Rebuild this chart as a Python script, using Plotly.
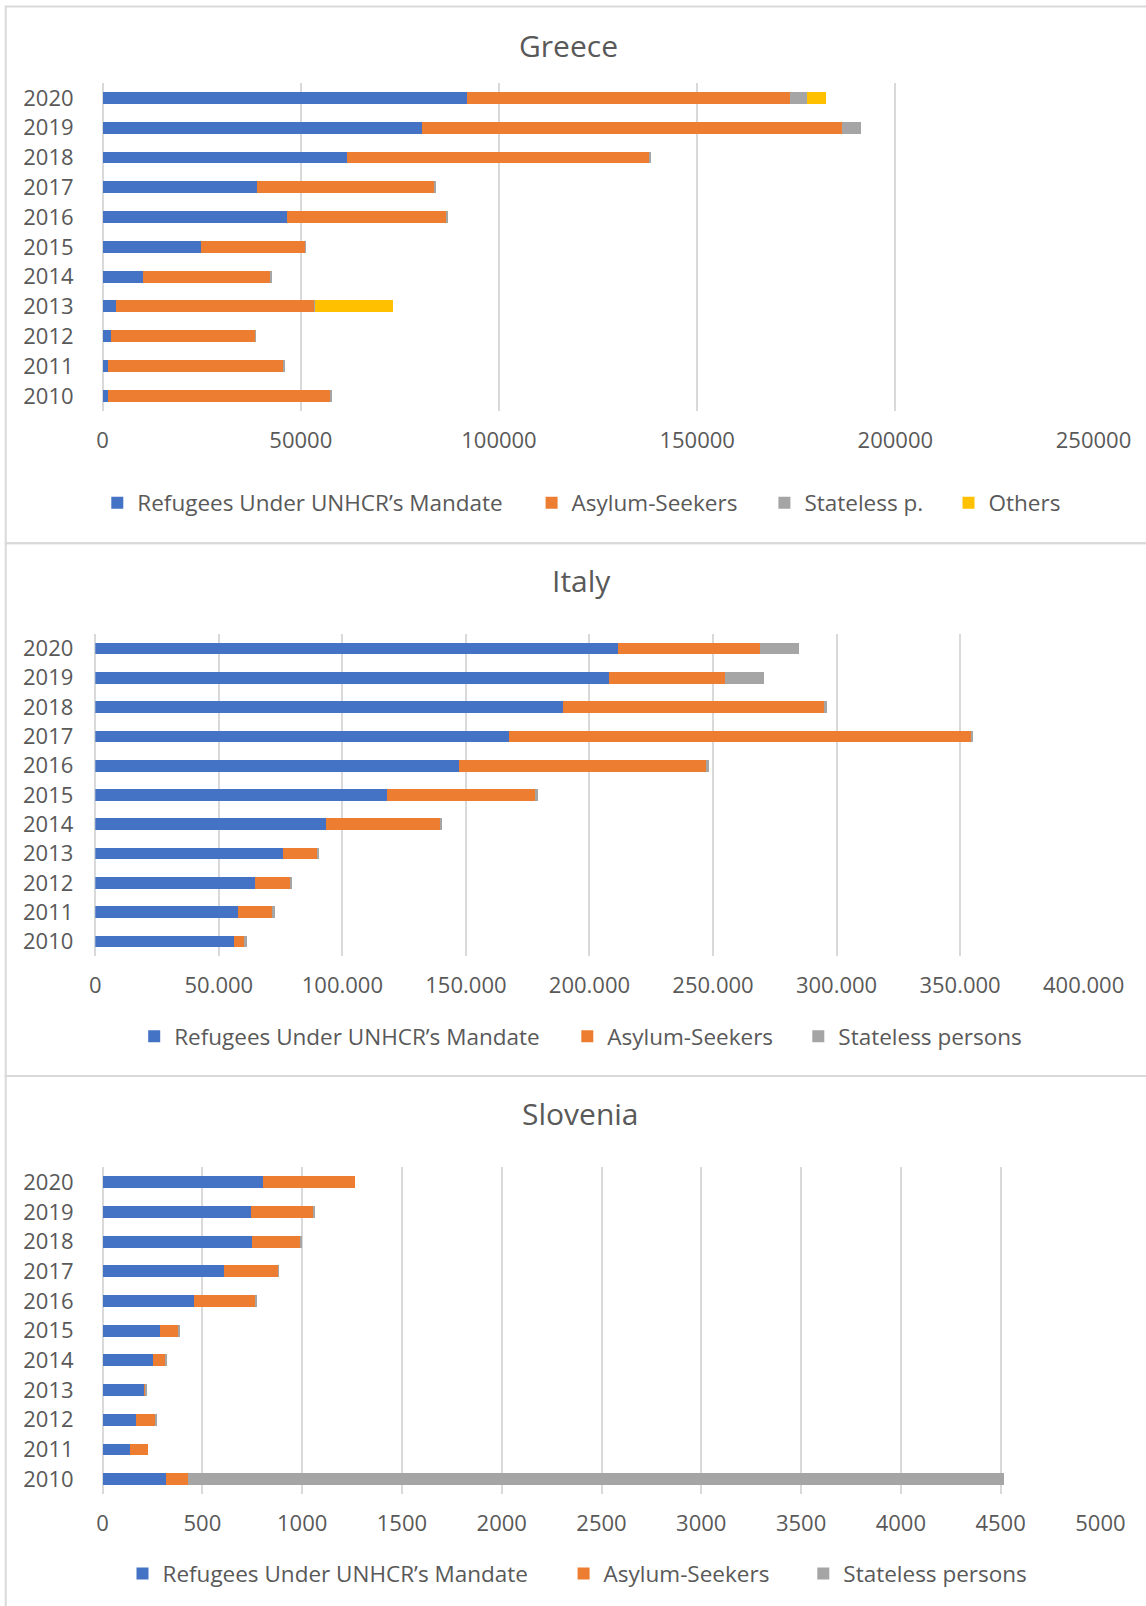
import plotly.graph_objects as go

# ---------------------------------------------------------------- data
years = ["2010", "2011", "2012", "2013", "2014", "2015",
         "2016", "2017", "2018", "2019", "2020"]

greece_refugees = [1270, 1440, 2030, 3380, 10290, 24710, 46540, 39040, 61550, 80500, 92000]
greece_asylum = [56140, 44180, 36410, 49990, 31950, 26300, 40160, 44540, 76380, 106170, 81310]
greece_stateless = [200, 250, 150, 200, 250, 200, 250, 200, 300, 4700, 4500]
greece_others = [0, 0, 0, 19600, 0, 0, 0, 0, 0, 0, 4800]

italy_refugees = [56080, 57830, 64730, 76090, 93540, 118040, 147390, 167400, 189460, 208050, 211620]
italy_asylum = [4190, 13790, 14200, 13800, 46140, 60310, 100150, 187190, 105760, 46910, 57220]
italy_stateless = [970, 1100, 540, 560, 680, 680, 770, 610, 770, 15870, 15870]

slovenia_refugees = [316, 136, 169, 206, 251, 286, 456, 610, 747, 742, 806]
slovenia_asylum = [110, 92, 93, 7, 60, 90, 307, 267, 245, 315, 460]
slovenia_stateless = [4092, 0, 5, 4, 5, 5, 7, 3, 5, 3, 0]

series_names = {
    "ref": "Refugees Under UNHCR’s Mandate",
    "asy": "Asylum-Seekers",
    "sta_short": "Stateless p.",
    "sta": "Stateless persons",
    "oth": "Others",
}

# ---------------------------------------------------------------- styling
W, H = 1146, 1606
FONT = "Open Sans"
TEXT = "#595959"
GRID = "#d9d9d9"
BLUE, ORANGE, GRAY, YELLOW = "#4472c4", "#ed7d31", "#a5a5a5", "#ffc000"


def fx(p):
    return p / W


def fy(p):
    return 1 - p / H


panels = [
    dict(
        title="Greece", title_xy=(568.5, 45.0),
        series=[(series_names["ref"], greece_refugees, BLUE),
                (series_names["asy"], greece_asylum, ORANGE),
                (series_names["sta_short"], greece_stateless, GRAY),
                (series_names["oth"], greece_others, YELLOW)],
        plot=(102.6, 83.0, 1093.5, 410.7), xmax=250000, dtick=50000, fmt="d",
        legend_y=503.0, legend_sym=[121.3, 555.6, 788.4, 972.5],
        box=(5.7, 6.6, 1150, 543.3),
    ),
    dict(
        title="Italy", title_xy=(581.0, 580.6),
        series=[(series_names["ref"], italy_refugees, BLUE),
                (series_names["asy"], italy_asylum, ORANGE),
                (series_names["sta"], italy_stateless, GRAY)],
        plot=(95.3, 633.8, 1083.6, 956.2), xmax=400000, dtick=50000, fmt=",d",
        legend_y=1036.5, legend_sym=[158.2, 591.3, 822.3],
        box=(5.7, 543.3, 1150, 1076.0),
    ),
    dict(
        title="Slovenia", title_xy=(580.5, 1113.7),
        series=[(series_names["ref"], slovenia_refugees, BLUE),
                (series_names["asy"], slovenia_asylum, ORANGE),
                (series_names["sta"], slovenia_stateless, GRAY)],
        plot=(102.6, 1167.4, 1100.4, 1494.0), xmax=5000, dtick=500, fmt="d",
        legend_y=1573.8, legend_sym=[146.5, 587.6, 827.3],
        box=(5.7, 1076.0, 1150, 1612),
    ),
]

LABEL_RIGHT = 72.7  # right edge of the year labels

fig = go.Figure()
layout = dict(
    width=W, height=H, autosize=False,
    margin=dict(l=0, r=0, t=0, b=0, pad=0, autoexpand=False),
    paper_bgcolor="white", plot_bgcolor="white",
    barmode="stack", bargap=0.6,
    separators=",.",
    font=dict(family=FONT, size=22, color=TEXT),
    showlegend=True,
)
shapes, annotations = [], []
legend_idx = 0

for i, p in enumerate(panels, start=1):
    sfx = "" if i == 1 else str(i)
    x0, y0, x1, y1 = p["plot"]
    for j, (name, vals, color) in enumerate(p["series"]):
        legend_idx += 1
        lname = "legend" if legend_idx == 1 else f"legend{legend_idx}"
        fig.add_trace(go.Bar(
            y=years, x=vals, name=name, orientation="h",
            marker=dict(color=color, line=dict(width=0)),
            xaxis="x" + sfx, yaxis="y" + sfx,
            legend=lname, showlegend=True,
        ))
        sym = p["legend_sym"][j]
        layout[lname] = dict(
            x=fx(sym - 24), xanchor="left",
            y=fy(p["legend_y"]), yanchor="middle",
            orientation="h", bgcolor="rgba(0,0,0,0)", borderwidth=0,
            font=dict(family=FONT, size=22.5, color=TEXT),
            itemclick=False, itemdoubleclick=False,
        )
    layout["xaxis" + sfx] = dict(
        domain=[fx(x0), fx(x1)], anchor="y" + sfx,
        range=[0, p["xmax"]], tick0=0, dtick=p["dtick"],
        tickformat=p["fmt"], showgrid=True, gridcolor=GRID, gridwidth=1.5,
        zeroline=True, zerolinecolor=GRID, zerolinewidth=1.5,
        showline=False, ticks="", ticklabelstandoff=14, automargin=False,
        tickfont=dict(family=FONT, size=22, color=TEXT), fixedrange=True,
    )
    layout["yaxis" + sfx] = dict(
        domain=[fy(y1), fy(y0)], anchor="x" + sfx,
        type="category", categoryorder="array", categoryarray=years,
        showgrid=False, zeroline=False, showline=False, ticks="",
        ticklabelstandoff=int(round(x0 - LABEL_RIGHT)) - 2, automargin=False,
        tickfont=dict(family=FONT, size=22, color=TEXT), fixedrange=True,
    )
    tx, ty = p["title_xy"]
    annotations.append(dict(
        text=p["title"], x=fx(tx), y=fy(ty), xref="paper", yref="paper",
        xanchor="center", yanchor="middle", showarrow=False,
        font=dict(family=FONT, size=30, color=TEXT),
    ))
    bx0, by0, bx1, by1 = p["box"]
    shapes.append(dict(
        type="rect", xref="paper", yref="paper",
        x0=fx(bx0), x1=fx(bx1), y0=fy(by1), y1=fy(by0),
        line=dict(color=GRID, width=2), fillcolor="rgba(0,0,0,0)", layer="below",
    ))

layout["shapes"] = shapes
layout["annotations"] = annotations
fig.update_layout(**layout)

# keep the page edge-to-edge
page_fix = (
    "document.documentElement.style.margin='0';"
    "document.body.style.margin='0';"
    "document.documentElement.style.overflow='hidden';"
    "document.body.style.overflow='hidden';"
)

fig.write_html("out.html", config={"responsive": False, "displayModeBar": False},
               default_width=f"{W}px", default_height=f"{H}px",
               post_script=page_fix)
